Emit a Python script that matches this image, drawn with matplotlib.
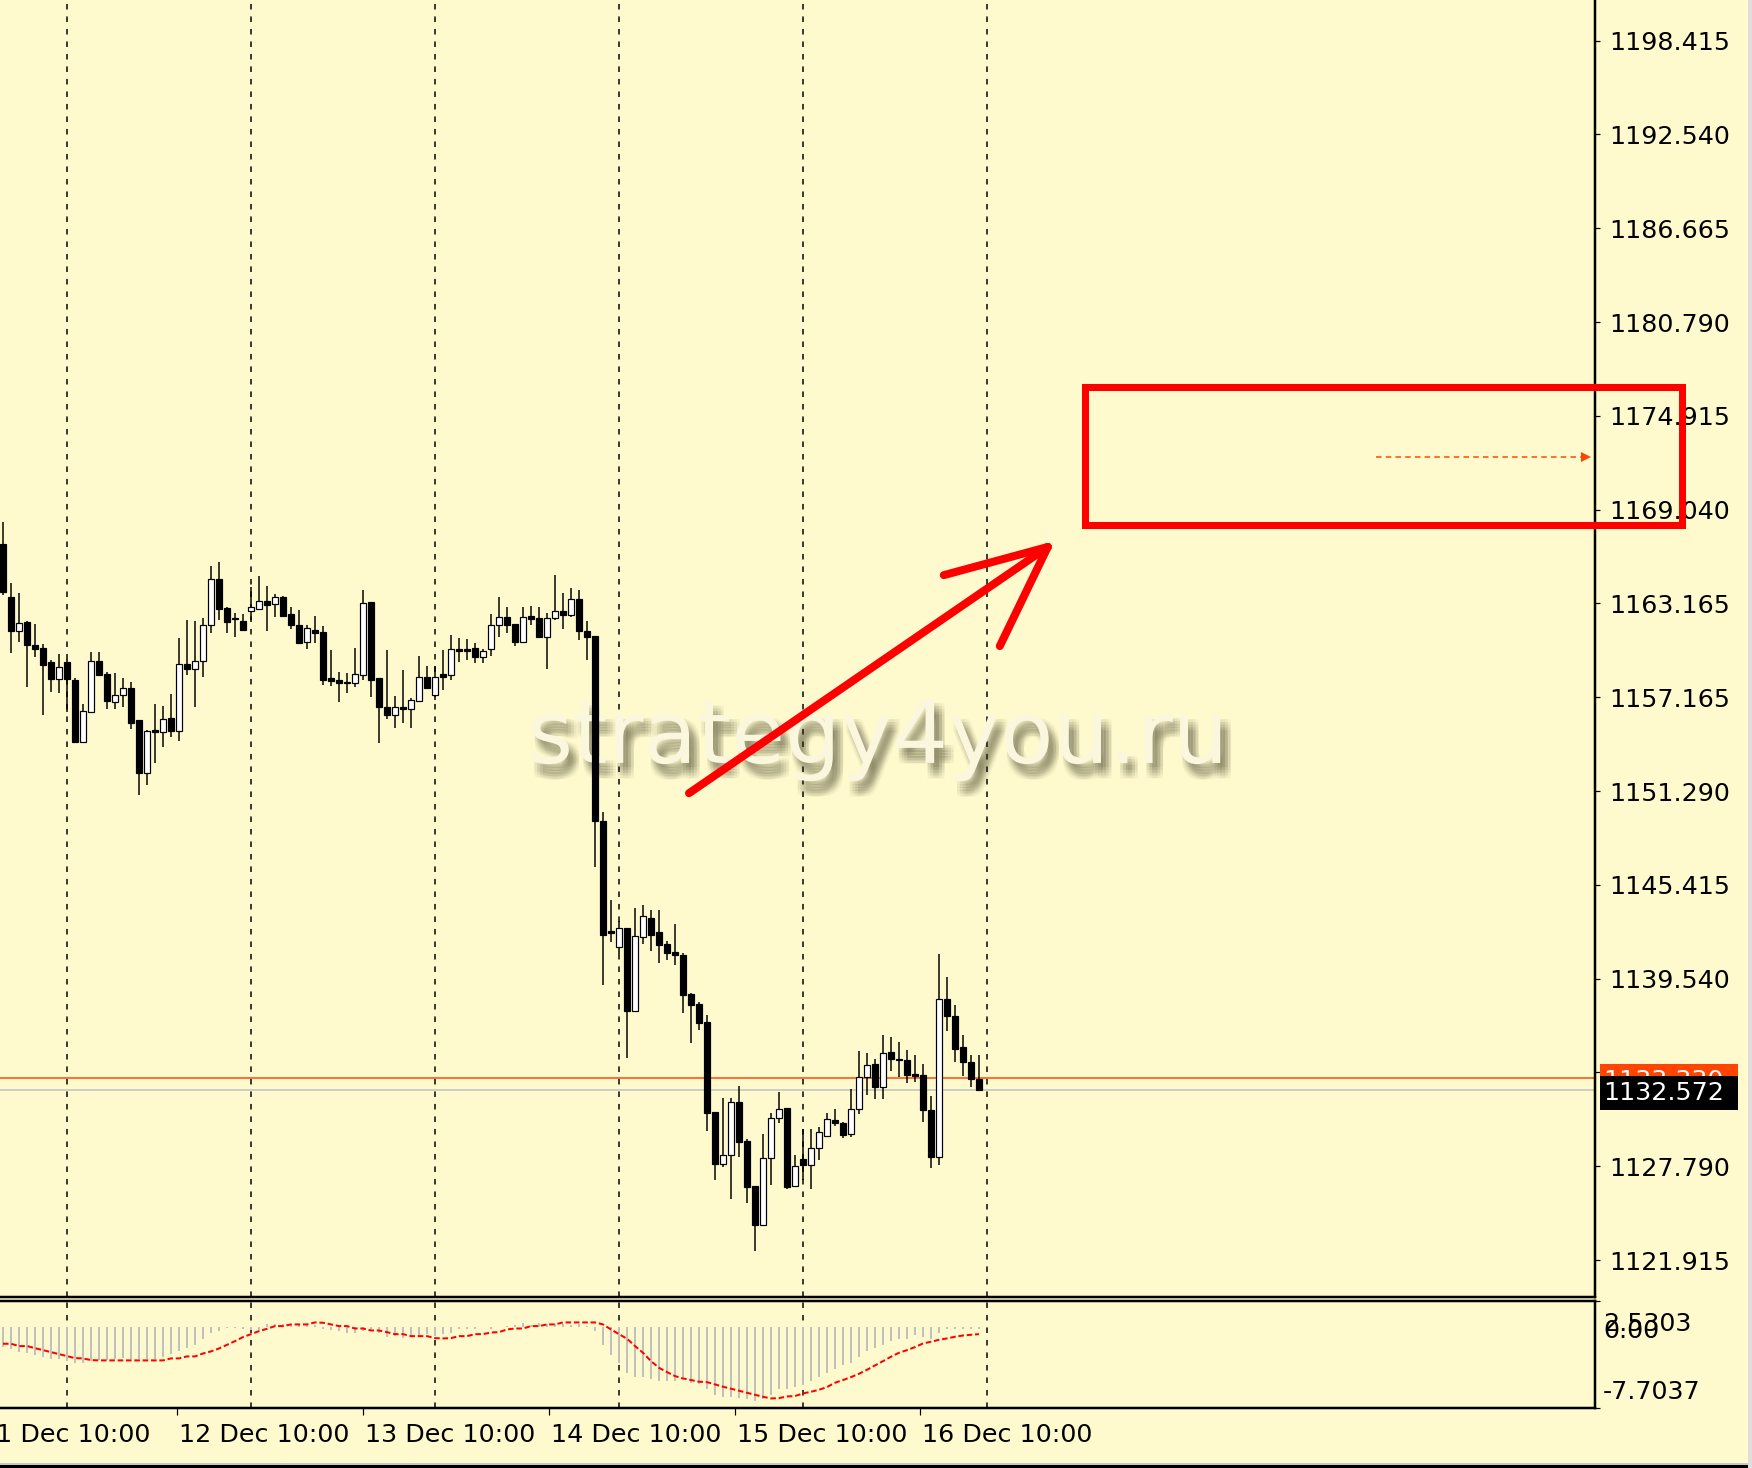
import matplotlib
matplotlib.use("Agg")
import matplotlib.pyplot as plt
from matplotlib.patches import Rectangle
import matplotlib.patheffects as pe
import numpy as np

plt.rcParams['lines.scale_dashes'] = False
plt.rcParams['font.family'] = ['DejaVu Sans']

# ---------------- data ----------------
opens = [1166.81, 1163.53, 1161.38, 1161.92, 1160.50, 1160.29, 1159.41, 1158.36, 1159.41, 1158.30,
         1154.43, 1156.32, 1159.51, 1158.66, 1156.90, 1157.36, 1157.78, 1155.79, 1152.45, 1155.17,
         1155.02, 1155.90, 1155.10, 1159.28, 1158.99, 1159.49, 1161.75, 1164.66, 1162.80, 1162.21,
         1162.02, 1162.65, 1162.76, 1163.28, 1163.05, 1163.53, 1162.44, 1161.75, 1160.66, 1161.44,
         1161.29, 1158.41, 1158.30, 1158.18, 1158.13, 1158.62, 1163.17, 1158.41, 1156.63, 1156.11,
         1156.63, 1156.48, 1156.98, 1158.51, 1157.36, 1158.66, 1158.62, 1160.25, 1160.25, 1160.29,
         1159.77, 1160.25, 1161.75, 1162.28, 1161.79, 1160.71, 1162.32, 1162.21, 1161.02, 1162.17,
         1162.63, 1162.38, 1163.38, 1161.38, 1161.07, 1149.45, 1142.50, 1141.55, 1142.73, 1137.55,
         1142.17, 1143.37, 1142.50, 1141.75, 1141.24, 1141.05, 1138.58, 1137.97, 1136.85, 1131.19,
         1127.97, 1128.53, 1131.81, 1129.37, 1126.54, 1124.11, 1128.31, 1130.83, 1131.44, 1126.57,
         1128.25, 1127.89, 1128.92, 1129.71, 1130.69, 1130.49, 1129.85, 1131.39, 1133.40, 1134.19,
         1132.79, 1134.94, 1134.55, 1134.47, 1133.54, 1133.54, 1131.33, 1128.36, 1138.30, 1137.21,
         1135.31, 1134.33, 1133.29]
highs = [1168.24, 1164.41, 1163.78, 1162.02, 1161.79, 1160.54, 1159.56, 1159.91, 1159.60, 1158.41,
         1156.78, 1160.04, 1160.04, 1158.82, 1158.76, 1158.41, 1158.16, 1155.79, 1155.17, 1156.78,
         1156.67, 1157.40, 1160.92, 1162.07, 1162.02, 1162.17, 1165.45, 1165.68, 1162.90, 1162.48,
         1162.44, 1164.12, 1164.83, 1164.20, 1163.70, 1163.57, 1162.90, 1162.69, 1161.75, 1162.32,
         1161.69, 1160.18, 1158.82, 1158.76, 1160.29, 1163.95, 1163.17, 1158.41, 1160.18, 1157.30,
         1158.93, 1157.15, 1159.81, 1159.20, 1159.20, 1160.18, 1161.13, 1160.92, 1160.87, 1160.64,
         1160.25, 1162.42, 1163.53, 1162.90, 1161.79, 1162.86, 1162.94, 1162.86, 1162.48, 1164.91,
         1163.78, 1164.05, 1163.95, 1162.00, 1161.07, 1150.01, 1144.49, 1143.20, 1142.73, 1143.99,
         1144.18, 1143.85, 1143.85, 1141.94, 1143.01, 1141.19, 1138.67, 1138.11, 1137.27, 1131.19,
         1132.09, 1132.09, 1132.84, 1129.48, 1126.54, 1129.85, 1131.11, 1132.45, 1131.44, 1128.50,
         1130.13, 1130.13, 1130.27, 1131.16, 1131.39, 1130.55, 1132.65, 1135.03, 1134.89, 1134.52,
         1136.06, 1135.92, 1135.59, 1135.11, 1134.75, 1134.19, 1132.23, 1141.10, 1139.70, 1137.91,
         1136.01, 1134.75, 1134.80]
lows = [1163.63, 1159.97, 1160.71, 1157.84, 1159.77, 1156.11, 1157.57, 1157.47, 1156.32, 1154.33,
        1154.33, 1156.21, 1158.62, 1156.46, 1156.46, 1156.63, 1155.21, 1151.09, 1151.71, 1153.07,
        1154.08, 1154.71, 1154.50, 1158.62, 1156.59, 1158.47, 1161.23, 1162.07, 1161.23, 1161.02,
        1161.38, 1162.07, 1162.74, 1161.38, 1162.28, 1162.23, 1161.50, 1160.60, 1160.25, 1160.60,
        1157.97, 1157.95, 1156.94, 1157.47, 1157.84, 1158.30, 1157.21, 1154.33, 1155.83, 1155.31,
        1155.58, 1155.31, 1156.94, 1157.72, 1157.05, 1157.67, 1158.30, 1159.45, 1159.56, 1159.35,
        1159.35, 1159.81, 1160.98, 1161.23, 1160.46, 1160.60, 1161.75, 1160.92, 1158.97, 1162.07,
        1161.48, 1162.28, 1160.81, 1159.56, 1146.56, 1139.17, 1141.89, 1141.13, 1134.61, 1137.55,
        1141.75, 1141.27, 1140.54, 1140.71, 1140.43, 1137.41, 1135.53, 1136.34, 1130.04, 1126.91,
        1127.75, 1125.73, 1128.36, 1125.51, 1122.48, 1124.11, 1126.63, 1130.49, 1126.40, 1126.49,
        1126.91, 1126.35, 1128.17, 1129.65, 1130.32, 1129.57, 1129.65, 1131.05, 1132.28, 1132.00,
        1132.00, 1133.77, 1133.40, 1133.01, 1133.07, 1130.60, 1127.69, 1127.89, 1136.29, 1134.33,
        1133.49, 1132.79, 1132.57]
closes = [1163.84, 1161.38, 1161.90, 1160.50, 1160.25, 1159.24, 1158.36, 1159.14, 1158.36, 1154.43,
          1156.38, 1159.51, 1158.62, 1156.98, 1157.36, 1157.78, 1155.58, 1152.45, 1155.12, 1155.02,
          1155.86, 1155.10, 1159.28, 1158.99, 1159.49, 1161.75, 1164.66, 1162.76, 1161.96, 1162.13,
          1161.44, 1162.90, 1163.28, 1163.01, 1163.53, 1162.34, 1161.75, 1160.60, 1161.54, 1161.23,
          1158.30, 1158.24, 1158.13, 1158.11, 1158.66, 1163.15, 1158.30, 1156.59, 1156.11, 1156.63,
          1156.48, 1157.05, 1158.51, 1157.82, 1158.51, 1158.51, 1160.25, 1160.12, 1160.12, 1159.72,
          1160.14, 1161.75, 1162.28, 1161.75, 1160.71, 1162.28, 1162.13, 1160.98, 1162.17, 1162.63,
          1162.38, 1163.38, 1161.38, 1160.98, 1149.45, 1142.31, 1142.45, 1142.73, 1137.55, 1142.22,
          1143.48, 1142.31, 1141.66, 1141.19, 1141.05, 1138.53, 1137.91, 1136.79, 1131.11, 1127.97,
          1128.53, 1131.81, 1129.29, 1126.49, 1124.11, 1128.31, 1130.83, 1131.39, 1126.49, 1127.80,
          1127.89, 1128.92, 1129.93, 1130.74, 1130.49, 1129.76, 1131.39, 1133.40, 1134.13, 1132.79,
          1134.89, 1134.55, 1134.47, 1133.54, 1133.48, 1131.33, 1128.36, 1138.30, 1137.21, 1135.17,
          1134.33, 1133.29, 1132.57]

macd_main = [-1.88, -2.10, -2.33, -2.42, -2.64, -2.84, -3.06, -3.06, -3.22, -3.38,
             -3.38, -3.22, -3.15, -3.15, -3.06, -2.90, -3.00, -3.00, -3.00, -3.00,
             -2.80, -2.58, -2.26, -1.94, -1.72, -1.15, -0.51, -0.35, -0.05, -0.03,
             -0.15, -0.20, -0.25, 0.35, 0.30, 0.35, 0.20, 0.25, 0.30, 0.20,
             -0.10, -0.20, -0.35, -0.55, -0.50, -0.30, -0.35, -0.50, -0.90, -0.80,
             -1.00, -0.80, -0.85, -0.60, -0.80, -0.60, -0.50, -0.15, -0.10, -0.10,
             0.02, -0.10, 0.00, 0.15, 0.20, 0.38, 0.25, 0.38, 0.29, 0.30,
             0.30, 0.25, 0.30, 0.15, -0.35, -1.69, -2.64, -3.38, -4.33, -4.75,
             -4.75, -4.97, -5.13, -5.13, -5.13, -4.97, -5.29, -5.45, -5.93, -6.47,
             -6.66, -6.66, -6.72, -6.82, -7.04, -6.82, -6.50, -5.93, -5.93, -5.67,
             -5.54, -5.13, -4.75, -4.40, -4.02, -3.63, -3.38, -2.84, -2.26, -2.01,
             -1.69, -1.31, -1.08, -1.08, -0.73, -0.92, -1.15, -0.57, -0.19, -0.19,
             -0.13, -0.13, -0.13]
macd_signal = [-1.56, -1.56, -1.78, -1.78, -1.98, -2.17, -2.36, -2.55, -2.74, -2.93,
               -2.96, -3.12, -3.15, -3.15, -3.15, -3.15, -3.15, -3.15, -3.15, -3.15,
               -3.15, -2.96, -2.96, -2.77, -2.77, -2.49, -2.29, -2.01, -1.66, -1.31,
               -0.92, -0.64, -0.35, -0.13, 0.13, 0.13, 0.29, 0.29, 0.29, 0.48,
               0.45, 0.29, 0.13, 0.13, -0.10, -0.10, -0.29, -0.29, -0.45, -0.64,
               -0.64, -0.83, -0.83, -0.83, -1.02, -1.05, -1.02, -0.83, -0.83, -0.64,
               -0.64, -0.48, -0.45, -0.19, -0.10, -0.10, 0.13, 0.13, 0.29, 0.29,
               0.48, 0.48, 0.48, 0.48, 0.48, 0.29, -0.19, -0.64, -1.08, -1.78,
               -2.42, -3.22, -3.86, -4.27, -4.65, -4.88, -5.03, -5.19, -5.23, -5.45,
               -5.67, -5.86, -6.05, -6.25, -6.44, -6.63, -6.79, -6.76, -6.60, -6.56,
               -6.31, -6.15, -5.96, -5.70, -5.29, -5.03, -4.75, -4.43, -4.05, -3.63,
               -3.22, -2.80, -2.42, -2.17, -1.88, -1.53, -1.37, -1.18, -1.05, -0.89,
               -0.77, -0.70, -0.64]

price_tick_labels = ["1198.415", "1192.540", "1186.665", "1180.790", "1174.915", "1169.040",
                     "1163.165", "1157.165", "1151.290", "1145.415", "1139.540", "1133.665",
                     "1127.790", "1121.915"]
price_tick_top = 1198.415
price_tick_bottom = 1121.915
date_labels = ["11 Dec 10:00", "12 Dec 10:00", "13 Dec 10:00", "14 Dec 10:00",
               "15 Dec 10:00", "16 Dec 10:00"]
date_label_bars = [-3.1, 21.73, 44.96, 68.20, 91.45, 114.68]
day_grid_bars = [8, 31, 54, 77, 100, 123]
bid_price = 1132.572
ask_price = 1133.330
ind_max = 2.5303
ind_min = -7.7037
watermark = "strategy4you.ru"

# ---------------- styling ----------------
BG = "#fffacd"
W, H = 1752, 1468
PX = 72.0 / 100.0  # points per pixel
FS = 18.3

fig = plt.figure(figsize=(W / 100, H / 100), dpi=100, facecolor=BG)


def px_axes(l, t, r, b):
    return fig.add_axes([l / W, 1 - b / H, (r - l) / W, (b - t) / H], facecolor=BG)


ax = px_axes(0, 0, 1595, 1297)
ai = px_axes(0, 1301, 1595, 1408)

n = len(opens)
x = np.arange(n)
o = np.array(opens); h = np.array(highs); l = np.array(lows); c = np.array(closes)

# main price panel
ax.set_xlim(-0.375, 199.0)
ax.set_ylim(1119.595, 1200.962)

for b in day_grid_bars:
    ax.axvline(b, color="black", lw=1.5 * PX, ls=(0, (4, 5)), zorder=1)
    ai.axvline(b, color="black", lw=1.5 * PX, ls=(0, (4, 5)), zorder=1)

# watermark with soft shadow
shadows = []
for dx in (1.5, 3.5, 5.5, 7.5):
    for dy in (3.0, 5.0, 7.0, 9.0, 11.0):
        shadows.append(pe.SimplePatchShadow(offset=(dx, -dy), shadow_rgbFace="#3c3a22", alpha=0.04))
ax.text(109.4, 1153.1, watermark, fontsize=63, ha="center", va="baseline",
        color="#fbf7de", zorder=1.5, path_effects=shadows + [pe.Normal()])

ax.axhline(ask_price, color="#ff4500", lw=1.5 * PX, zorder=2)
ax.axhline(bid_price, color="#c0c0c0", lw=1.5 * PX, zorder=2)

ax.vlines(x, l, h, color="black", lw=1.5 * PX, zorder=3)
bear = c < o
body_bottom = np.minimum(o, c)
body_h = np.maximum(np.abs(c - o), 0.08)
ax.bar(x, body_h, bottom=body_bottom, width=0.68,
       color=np.where(bear, "black", "white"), edgecolor="black",
       linewidth=1.2 * PX, zorder=4)

# annotations drawn on the chart
red = "#ff0000"
arrow_tip = (130.6, 1166.65)
ax.plot([85.75, arrow_tip[0]], [1151.2, arrow_tip[1]], color=red, lw=8 * PX,
        solid_capstyle="round", zorder=6)
ax.plot([117.6, arrow_tip[0]], [1164.88, arrow_tip[1]], color=red, lw=8 * PX,
        solid_capstyle="round", zorder=6)
ax.plot([124.6, arrow_tip[0]], [1160.43, arrow_tip[1]], color=red, lw=8 * PX,
        solid_capstyle="round", zorder=6)

ax.add_patch(Rectangle((135.25, 1168.03), 74.65, 8.67, fill=False, ec=red,
                       lw=7 * PX, clip_on=False, zorder=10))

ax.plot([171.6, 197.3], [1172.31, 1172.31], color="#ff4500", lw=1.5 * PX,
        ls=(0, (4, 3)), zorder=5)
ax.plot([197.9], [1172.31], marker=">", color="#ff4500", ms=7, mew=0, zorder=5)

# right price axis
step = (price_tick_top - price_tick_bottom) / (len(price_tick_labels) - 1)
ax.set_yticks([price_tick_top - k * step for k in range(len(price_tick_labels))])
ax.set_yticklabels(price_tick_labels)
ax.yaxis.tick_right()
ax.tick_params(axis="y", direction="out", length=5 * PX, width=1.2 * PX, pad=9 * PX,
               labelsize=FS, colors="black")
ax.set_xticks([])
for s in ("top", "left"):
    ax.spines[s].set_visible(False)
for s in ("right", "bottom"):
    ax.spines[s].set_linewidth(2.5 * PX)

# current-price labels on the price scale (orange behind, black in front)
box_left, box_width = 199.6, 17.3          # in bar units, beyond the plot edge
box_half, box_shift = 1.065, -0.19         # in price units
for price, fc, z in ((ask_price, "#ff4500", 8), (bid_price, "black", 9)):
    ax.add_patch(Rectangle((box_left, price + box_shift - box_half), box_width, 2 * box_half,
                           fc=fc, ec="none", clip_on=False, zorder=z))
    ax.text(box_left + 0.45, price + box_shift, f"{price:.3f}", ha="left", va="center",
            fontsize=FS, color="white", clip_on=False, zorder=z + 0.5)

# indicator panel
ai.set_xlim(-0.375, 199.0)
ai.set_ylim(ind_min, ind_max)
ai.bar(x, macd_main, width=0.27, color="#c0c0c0", zorder=2)
ai.plot(x, macd_signal, color="#ff0000", lw=2 * PX, ls=(0, (4, 2)), zorder=3)

ai.yaxis.tick_right()
ai.set_yticks([ind_max, ind_min])
ai.set_yticklabels(["", ""])
ai.tick_params(axis="y", direction="out", length=5 * PX, width=1.2 * PX)
lx = 1.0 + 8 / 1595
ai.text(lx, 0.785, f"{ind_max:.4f}", transform=ai.transAxes, ha="left", va="center",
        fontsize=FS, color="black", clip_on=False)
ai.annotate("0.00", xy=(lx, 0), xycoords=("axes fraction", "data"),
            xytext=(0, -4 * PX), textcoords="offset points", ha="left", va="center",
            fontsize=FS, color="black", annotation_clip=False)
ai.text(lx, 0.145, f"{ind_min:.4f}", transform=ai.transAxes, ha="left",
        va="center", fontsize=FS, color="black", clip_on=False)

visible_ticks = [b for b in date_label_bars if b >= -0.375]
ai.set_xticks(visible_ticks)
ai.set_xticklabels([""] * len(visible_ticks))
ai.tick_params(axis="x", direction="out", length=7 * PX, width=1.2 * PX)
for b, lab in zip(date_label_bars, date_labels):
    ai.annotate(lab, xy=(b, 0), xycoords=("data", "axes fraction"),
                xytext=(2 * PX, -15 * PX), textcoords="offset points",
                ha="left", va="top", fontsize=FS, color="black",
                annotation_clip=False)
ai.spines["left"].set_visible(False)
for s in ("top", "right", "bottom"):
    ai.spines[s].set_linewidth(2.5 * PX)

# window frame edges
fig.add_artist(Rectangle((0, 0), 1, 3 / H, transform=fig.transFigure, color="black", lw=0))
fig.add_artist(Rectangle((0, 3 / H), 1, 2 / H, transform=fig.transFigure, color="#c8c8c8", lw=0))
fig.add_artist(Rectangle((1 - 4 / W, 0), 4 / W, 1, transform=fig.transFigure, color="#dedede", lw=0))

fig.savefig("out.png", dpi=100, facecolor=BG)
